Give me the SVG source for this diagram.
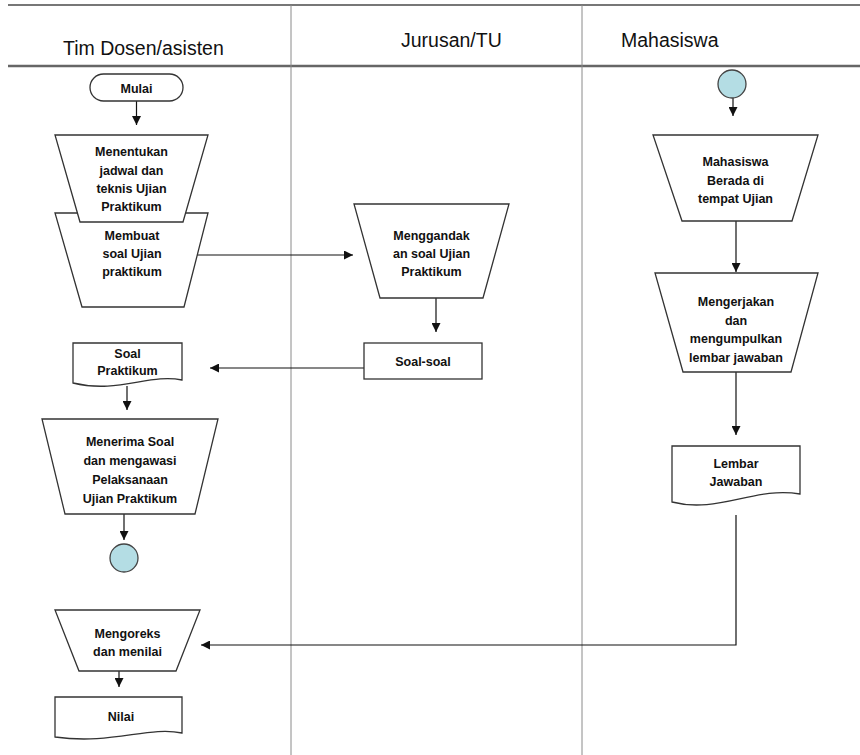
<svg xmlns="http://www.w3.org/2000/svg" width="860" height="755" viewBox="0 0 860 755">
<style>
.lane{stroke:#8a8a8a;stroke-width:1;fill:none}
.hline{stroke:#777;stroke-width:2;fill:none}
.hdr{font-family:"Liberation Sans",Arial,sans-serif;font-size:19.5px;fill:#111}
.shape{fill:#fff;stroke:#333;stroke-width:1.3}
.term{fill:#b4dde4;stroke:#444;stroke-width:1.3}
.lbl{font-family:"Liberation Sans",Arial,sans-serif;font-size:12.5px;font-weight:bold;fill:#111;text-anchor:middle}
.conn{stroke:#111;stroke-width:1.2;fill:none;marker-end:url(#ah)}
</style>
<defs>
<marker id="ah" viewBox="0 0 10 10" refX="10" refY="5" markerWidth="9" markerHeight="9" markerUnits="userSpaceOnUse" orient="auto">
<path d="M0,0 L10,5 L0,10 Z" fill="#111"/>
</marker>
</defs>
<rect width="860" height="755" fill="#fff"/>
<g id="lanes">
<line class="hline" x1="8" y1="5" x2="860" y2="5"/>
<line class="hline" x1="8" y1="66" x2="860" y2="66" style="stroke-width:2.5;stroke:#666"/>
<line class="lane" x1="291" y1="5" x2="291" y2="755"/>
<line class="lane" x1="582" y1="5" x2="582" y2="755"/>
<text class="hdr" x="63" y="55">Tim Dosen/asisten</text>
<text class="hdr" x="401" y="47">Jurusan/TU</text>
<text class="hdr" x="621" y="47">Mahasiswa</text>
</g>
<g id="connectors">
<line class="conn" x1="136.5" y1="101" x2="136.5" y2="125"/>
<line class="conn" x1="192" y1="255" x2="353" y2="255"/>
<line class="conn" x1="436" y1="298" x2="436" y2="332"/>
<line class="conn" x1="364" y1="368" x2="210" y2="368"/>
<line class="conn" x1="127" y1="386" x2="127" y2="410"/>
<line class="conn" x1="124" y1="514" x2="124" y2="540"/>
<line class="conn" x1="733" y1="98" x2="733" y2="116"/>
<line class="conn" x1="736" y1="221" x2="736" y2="272"/>
<line class="conn" x1="736" y1="372" x2="736" y2="435"/>
<polyline class="conn" points="736,515 736,645 201,645"/>
<line class="conn" x1="119" y1="671" x2="119" y2="687"/>
</g>
<g id="mulai">
<rect class="shape" x="90" y="74" width="93" height="27" rx="13.5"/>
<text class="lbl" x="136.5" y="92.5">Mulai</text>
</g>
<g id="membuat">
<polygon class="shape" points="55,213 208,213 184,307 82,307"/>
<text class="lbl" x="132" y="239.5">Membuat</text>
<text class="lbl" x="132" y="258">soal Ujian</text>
<text class="lbl" x="132" y="276">praktikum</text>
</g>
<g id="menentukan">
<polygon class="shape" points="55,135 208,135 183,222 80,222"/>
<text class="lbl" x="131.5" y="156">Menentukan</text>
<text class="lbl" x="131.5" y="174.5">jadwal dan</text>
<text class="lbl" x="131.5" y="193">teknis Ujian</text>
<text class="lbl" x="131.5" y="211">Praktikum</text>
</g>
<g id="menggandakan">
<polygon class="shape" points="354,204 509,204 483,298 380,298"/>
<text class="lbl" x="431.5" y="239.5">Menggandak</text>
<text class="lbl" x="431.5" y="258">an soal Ujian</text>
<text class="lbl" x="431.5" y="276">Praktikum</text>
</g>
<g id="soal-soal">
<rect class="shape" x="364" y="343" width="118" height="36"/>
<text class="lbl" x="423" y="366">Soal-soal</text>
</g>
<g id="soal-praktikum">
<path class="shape" d="M73,343 H182 V380 C150,373 118,394 73,383 Z"/>
<text class="lbl" x="127.5" y="357.5">Soal</text>
<text class="lbl" x="127.5" y="375">Praktikum</text>
</g>
<g id="menerima">
<polygon class="shape" points="42,419 218,419 195,514 65,514"/>
<text class="lbl" x="130" y="446">Menerima Soal</text>
<text class="lbl" x="130" y="465">dan mengawasi</text>
<text class="lbl" x="130" y="484">Pelaksanaan</text>
<text class="lbl" x="130" y="503">Ujian Praktikum</text>
</g>
<g id="connector-left">
<circle class="term" cx="124" cy="558" r="14"/>
</g>
<g id="connector-right">
<circle class="term" cx="732" cy="84" r="14"/>
</g>
<g id="mahasiswa-berada">
<polygon class="shape" points="653,135 818,135 792,221 682,221"/>
<text class="lbl" x="735.5" y="166">Mahasiswa</text>
<text class="lbl" x="735.5" y="184.5">Berada di</text>
<text class="lbl" x="735.5" y="203">tempat Ujian</text>
</g>
<g id="mengerjakan">
<polygon class="shape" points="655,273 818,273 791,372 683,372"/>
<text class="lbl" x="736" y="306">Mengerjakan</text>
<text class="lbl" x="736" y="324.5">dan</text>
<text class="lbl" x="736" y="343">mengumpulkan</text>
<text class="lbl" x="736" y="361.5">lembar jawaban</text>
</g>
<g id="lembar-jawaban">
<path class="shape" d="M672,446 H800 V494 C755,486 718,514 672,502 Z"/>
<text class="lbl" x="736" y="468">Lembar</text>
<text class="lbl" x="736" y="486">Jawaban</text>
</g>
<g id="mengoreksi">
<polygon class="shape" points="55,610 200,610 176,671 79,671"/>
<text class="lbl" x="127.5" y="638">Mengoreks</text>
<text class="lbl" x="127.5" y="656">dan menilai</text>
</g>
<g id="nilai">
<path class="shape" d="M55,697 H182 V733 C148,726 112,745 55,737 Z"/>
<text class="lbl" x="121" y="721">Nilai</text>
</g>
</svg>
